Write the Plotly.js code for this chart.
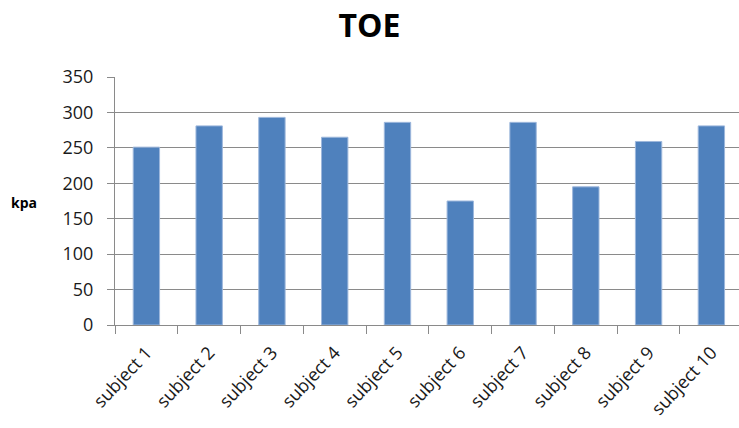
<!DOCTYPE html>
<html>
<head>
<meta charset="utf-8">
<script src="https://cdn.plot.ly/plotly-3.0.1.min.js"></script>
<style>html,body{margin:0;padding:0;background:#fff;}#chart{width:739px;height:428px;}</style>
</head>
<body>
<div id="chart"></div>
<script>
const categories = ["subject 1","subject 2","subject 3","subject 4","subject 5","subject 6","subject 7","subject 8","subject 9","subject 10"];
const values = [251, 281, 293, 265, 286, 175, 286, 195, 259, 281];
const yTicks = [0, 50, 100, 150, 200, 250, 300, 350];

const gridColor = '#8a8a8a';
const font = "'Open Sans', 'Liberation Sans', sans-serif";

const trace = {
  type: 'bar',
  x: categories,
  y: values,
  marker: { color: '#4f81bd', line: { color: '#9db7dc', width: 1 } },
  width: 0.42,
  hoverinfo: 'x+y'
};

const layout = {
  width: 739,
  height: 428,
  margin: { l: 115, r: 0, t: 77, b: 103 },
  paper_bgcolor: '#ffffff',
  plot_bgcolor: '#ffffff',
  showlegend: false,
  title: {
    text: '<b>TOE</b>',
    font: { family: font, size: 32, color: '#000000' },
    x: 0.5, xref: 'container', xanchor: 'center',
    y: 0.94, yref: 'container', yanchor: 'middle'
  },
  xaxis: {
    type: 'category',
    range: [-0.5, 9.44],
    tickangle: -47,
    tickson: 'boundaries',
    ticks: 'outside',
    ticklen: 8,
    tickcolor: gridColor,
    ticklabelstandoff: 9,
    showline: true,
    linecolor: gridColor,
    linewidth: 1,
    showgrid: false,
    tickfont: { family: font, size: 18, color: '#1a1a1a' }
  },
  yaxis: {
    range: [0, 350],
    tickvals: yTicks,
    ticktext: yTicks.map(String),
    ticks: 'outside',
    ticklen: 7,
    tickcolor: gridColor,
    ticklabelstandoff: 10,
    showline: true,
    linecolor: gridColor,
    linewidth: 1,
    showgrid: true,
    gridcolor: gridColor,
    gridwidth: 1,
    zeroline: false,
    tickfont: { family: font, size: 18, color: '#1a1a1a' }
  },
  annotations: [{
    text: '<b>kpa</b>',
    xref: 'paper', yref: 'paper',
    x: -0.146, y: 0.492,
    xanchor: 'center', yanchor: 'middle',
    showarrow: false,
    font: { family: font, size: 14, color: '#000000' }
  }]
};

Plotly.newPlot('chart', [trace], layout, { displayModeBar: false, staticPlot: true });
</script>
</body>
</html>
